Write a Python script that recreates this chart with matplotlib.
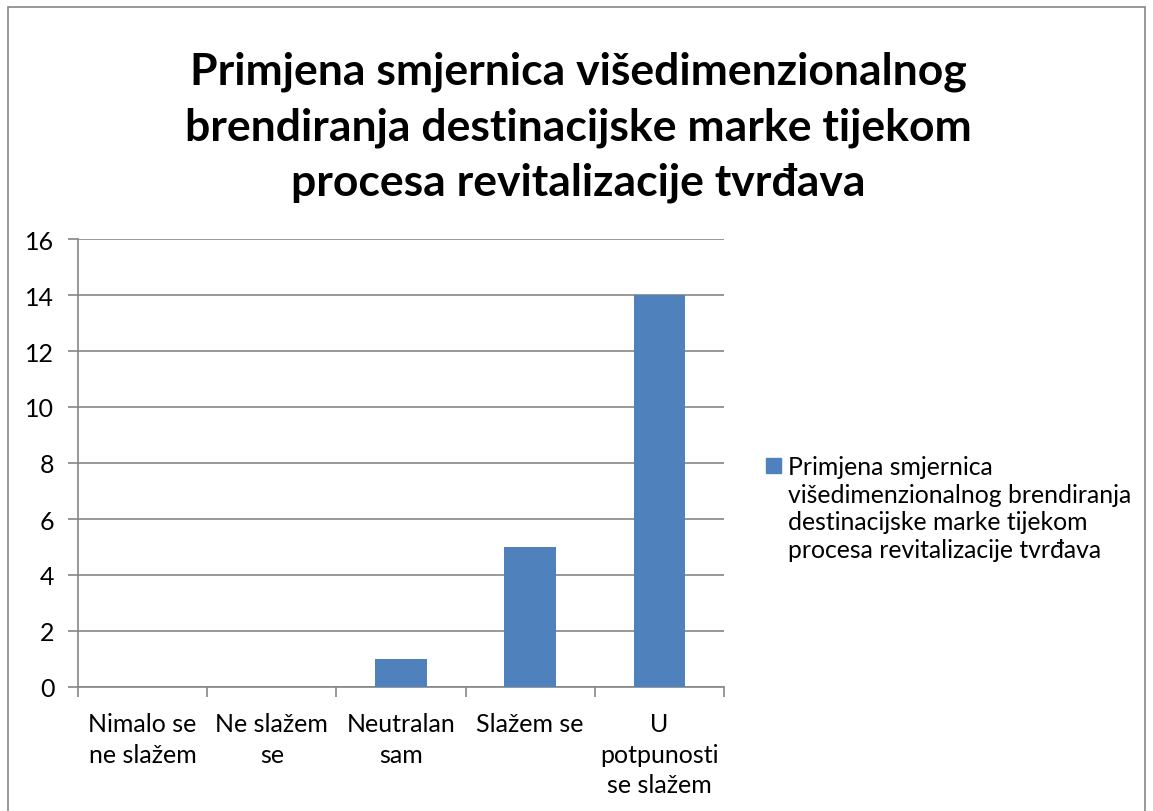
import matplotlib.pyplot as plt
from matplotlib.patches import Rectangle

categories = [
    "Nimalo se\nne slažem",
    "Ne slažem\nse",
    "Neutralan\nsam",
    "Slažem se",
    "U\npotpunosti\nse slažem",
]
values = [0, 0, 1, 5, 14]
series_name = "Primjena smjernica\nvišedimenzionalnog brendiranja\ndestinacijske marke tijekom\nprocesa revitalizacije tvrđava"
title = "Primjena smjernica višedimenzionalnog\nbrendiranja destinacijske marke tijekom\nprocesa revitalizacije tvrđava"

bar_color = "#4F81BD"
line_color = "#868686"
W, H = 1153, 812

plt.rcParams["font.family"] = ["Lato", "DejaVu Sans"]

fig = plt.figure(figsize=(W / 100, H / 100), dpi=100)
ax = fig.add_axes([78 / W, 1 - 688 / H, (724 - 78) / W, (688 - 240) / H])

x = list(range(len(categories)))
ax.bar(x, values, width=0.4, color=bar_color, zorder=3)

ax.set_xlim(-0.5, len(categories) - 0.5)
ax.set_ylim(0, 16)
ax.set_yticks(range(0, 17, 2))
ax.yaxis.grid(True, color=line_color, linewidth=1.2, zorder=0)
ax.tick_params(axis="y", length=7, color=line_color, width=1.2, labelsize=18, pad=10)

# category labels centered, tick marks on boundaries
ax.set_xticks(x)
ax.set_xticklabels(categories, fontsize=18, linespacing=1.4)
ax.tick_params(axis="x", which="major", length=0, pad=18)
ax.set_xticks([i - 0.5 for i in range(len(categories) + 1)], minor=True)
ax.tick_params(axis="x", which="minor", length=7, color=line_color, width=1.2)

for side in ["top", "right"]:
    ax.spines[side].set_visible(False)
for side in ["left", "bottom"]:
    ax.spines[side].set_color(line_color)
    ax.spines[side].set_linewidth(1.2)

fig.text(578 / W, 1 - 52 / H, title, ha="center", va="top", fontsize=32,
         fontweight="bold", linespacing=1.45)

# legend drawn by hand so the key sits on the first line
fig.patches.append(Rectangle((766 / W, 1 - 474 / H), 15 / W, 15 / H,
                             transform=fig.transFigure, color=bar_color))
fig.text(788 / W, 1 - 456 / H, series_name, ha="left", va="top", fontsize=17.8,
         linespacing=1.24)

# chart area border
fig.patches.append(Rectangle((8 / W, -0.01), (1145 - 8) / W, 1 - 8 / H + 0.01,
                             transform=fig.transFigure, fill=False,
                             edgecolor=line_color, linewidth=1.2))

fig.savefig("out.png", dpi=100)
